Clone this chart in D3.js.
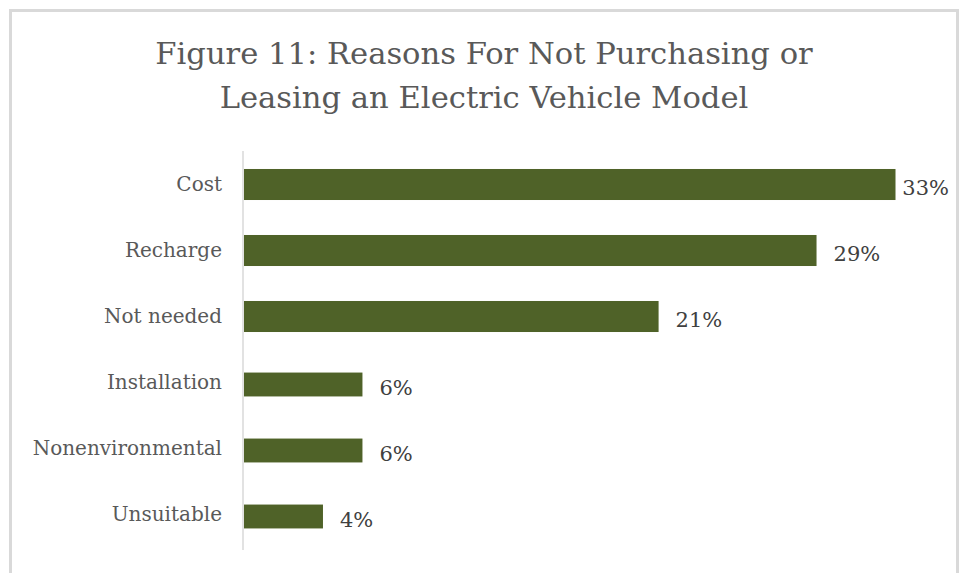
<!DOCTYPE html>
<html>
<head>
<meta charset="utf-8">
<script src="https://cdn.jsdelivr.net/npm/d3@7/dist/d3.min.js"></script>
<style>
  html, body { margin: 0; padding: 0; background: #fff; }
  svg { display: block; }
  text { font-family: "DejaVu Serif", "Liberation Serif", serif; }
</style>
</head>
<body>
<svg id="chart" width="961" height="573"></svg>
<script>
// Survey results: share of respondents citing each reason (%)
const categories = ["Cost", "Recharge", "Not needed", "Installation", "Nonenvironmental", "Unsuitable"];
const values = [33, 29, 21, 6, 6, 4];
const valueLabels = ["33%", "29%", "21%", "6%", "6%", "4%"];
const titleLines = ["Figure 11: Reasons For Not Purchasing or", "Leasing an Electric Vehicle Model"];

// the lower three rows are drawn with a slimmer bar
const slimRows = new Set(["Installation", "Nonenvironmental", "Unsuitable"]);

const svg = d3.select("#chart");

// outer chart frame
svg.append("rect")
  .attr("x", 10.5).attr("y", 10.5)
  .attr("width", 947).attr("height", 620)
  .attr("fill", "#fff")
  .attr("stroke", "#d9d9d9")
  .attr("stroke-width", 3);

// title
svg.append("text")
  .attr("x", 484).attr("y", 64)
  .attr("text-anchor", "middle")
  .attr("fill", "#595959")
  .attr("font-size", 30.6)
  .selectAll("tspan")
  .data(titleLines)
  .join("tspan")
  .attr("x", 484)
  .attr("dy", (d, i) => i === 0 ? 0 : 44)
  .text(d => d);

// scales
const x = d3.scaleLinear().domain([0, 35]).range([244, 244 + 651.5 * 35 / 33]);
const y = d3.scaleBand().domain(categories).range([151.5, 547.5])
  .paddingInner(0.53).paddingOuter(0.265);

const bw = y.bandwidth();
const slimH = bw * 0.77;
const barY = d => slimRows.has(d) ? y(d) + (bw - slimH) * 0.78 : y(d);
const barH = d => slimRows.has(d) ? slimH : bw;

// bars
svg.append("g")
  .selectAll("rect")
  .data(categories)
  .join("rect")
  .attr("x", x(0))
  .attr("y", d => barY(d))
  .attr("width", (d, i) => x(values[i]) - x(0))
  .attr("height", d => barH(d))
  .attr("fill", "#4f6228");

// category axis (labels only, plus a light baseline)
const yAxis = d3.axisLeft(y).tickSize(0).tickPadding(21);
const gy = svg.append("g")
  .attr("transform", `translate(${x(0) - 1},0)`)
  .call(yAxis);
gy.select(".domain").remove();
gy.selectAll("text")
  .attr("font-family", "\"DejaVu Serif\", \"Liberation Serif\", serif")
  .attr("font-size", 20)
  .attr("fill", "#595959")
  .attr("dy", "0.34em");

svg.append("line")
  .attr("x1", x(0) - 1).attr("x2", x(0) - 1)
  .attr("y1", 151).attr("y2", 550)
  .attr("stroke", "#d9d9d9")
  .attr("stroke-width", 1.5);

// value labels at the outside end, kept inside the frame
const rightLimit = 949;
svg.append("g")
  .selectAll("text")
  .data(categories)
  .join("text")
  .attr("y", d => barY(d) + barH(d) / 2 + 10.5)
  .attr("font-size", 21)
  .attr("fill", "#404040")
  .text((d, i) => valueLabels[i])
  .each(function(d, i) {
    const w = this.getComputedTextLength();
    const px = Math.min(x(values[i]) + 17, rightLimit - w);
    d3.select(this).attr("x", px);
  });
</script>
</body>
</html>
